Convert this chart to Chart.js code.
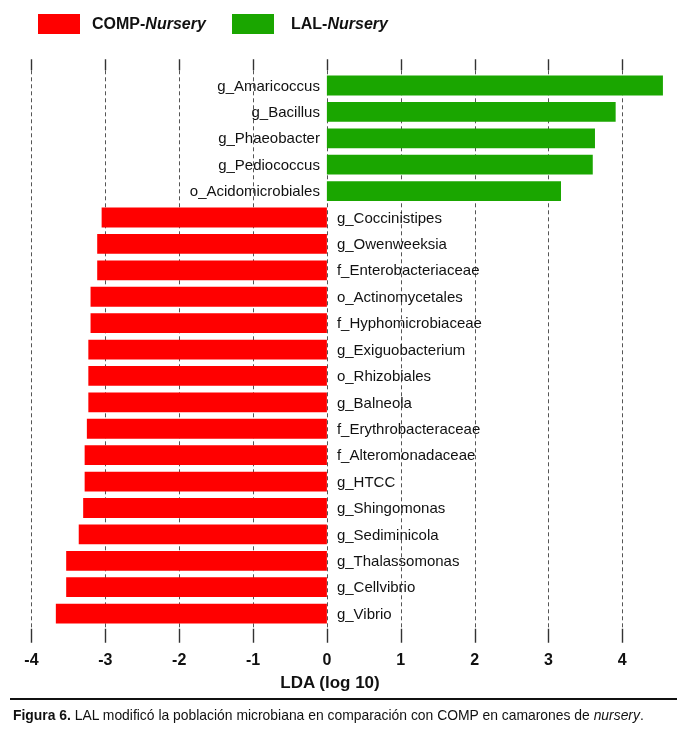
<!DOCTYPE html>
<html>
<head>
<meta charset="utf-8">
<script src="https://cdn.jsdelivr.net/npm/chart.js@4.4.1/dist/chart.umd.min.js"></script>
<style>
    body { margin: 0; background: #fff; font-family: "Liberation Sans", Arial, sans-serif; color: #111; }
    #wrap { position: relative; width: 680px; height: 732px; }
    #box { position: absolute; left: 0; top: 0; width: 680px; height: 700px; }
    .swatch { position: absolute; top: 14px; width: 42px; height: 20px; }
    .leg { position: absolute; top: 14px; line-height: 20px; font-size: 16px; font-weight: bold; }
    #axis-title { position: absolute; top: 673px; left: 230px; width: 200px; text-align: center; font-size: 17px; font-weight: bold; line-height: 20px; }
    #rule { position: absolute; top: 698px; left: 10px; width: 667px; height: 2px; background: #111; }
    #caption { position: absolute; top: 707px; left: 13px; font-size: 13.9px; line-height: 16px; white-space: nowrap; }
</style>
</head>
<body>
<div id="wrap">
    <div id="box"><canvas id="lda-chart"></canvas></div>
    <div class="swatch" style="left:38px;background:#ff0000"></div>
    <div class="leg" style="left:92px">COMP-<i>Nursery</i></div>
    <div class="swatch" style="left:232px;background:#1aa600"></div>
    <div class="leg" style="left:291px">LAL-<i>Nursery</i></div>
    <div id="axis-title">LDA (log 10)</div>
    <div id="rule"></div>
    <div id="caption"><b>Figura 6.</b> LAL modificó la población microbiana en comparación con COMP en camarones de <i>nursery</i>.</div>
</div>
<script>
const LAL_COLOR = '#1aa600';
const COMP_COLOR = '#ff0000';
const GRID_COLOR = '#555';
const LABEL_FONT = '15px "Liberation Sans", Arial, sans-serif';

const LAL_TAXA = ['g_Amaricoccus', 'g_Bacillus', 'g_Phaeobacter', 'g_Pediococcus', 'o_Acidomicrobiales'];
const LAL_LDA = [4.55, 3.91, 3.63, 3.60, 3.17];

const COMP_TAXA = ['g_Coccinistipes', 'g_Owenweeksia', 'f_Enterobacteriaceae', 'o_Actinomycetales',
    'f_Hyphomicrobiaceae', 'g_Exiguobacterium', 'o_Rhizobiales', 'g_Balneola', 'f_Erythrobacteraceae',
    'f_Alteromonadaceae', 'g_HTCC', 'g_Shingomonas', 'g_Sediminicola', 'g_Thalassomonas',
    'g_Cellvibrio', 'g_Vibrio'];
const COMP_LDA = [-3.05, -3.11, -3.11, -3.20, -3.20, -3.23, -3.23, -3.23, -3.25,
    -3.28, -3.28, -3.30, -3.36, -3.53, -3.53, -3.67];

const X_TICKS = [-4, -3, -2, -1, 0, 1, 2, 3, 4];

const TAXA = LAL_TAXA.concat(COMP_TAXA);
const lalData = LAL_LDA.concat(COMP_TAXA.map(() => null));
const compData = LAL_TAXA.map(() => null).concat(COMP_LDA);

// dashed grid with short solid ticks at top and bottom
function getGridPlugin() {
    return {
        id: 'ldaGrid',
        beforeDatasetsDraw(chart) {
            const { ctx, chartArea: area, scales: { x } } = chart;
            ctx.save();
            x.ticks.forEach(t => {
                const px = Math.round(x.getPixelForValue(t.value)) + 0.5;
                ctx.strokeStyle = GRID_COLOR;
                ctx.lineWidth = 1;
                ctx.setLineDash([4, 3]);
                ctx.beginPath();
                ctx.moveTo(px, area.top - 2);
                ctx.lineTo(px, area.bottom + 2);
                ctx.stroke();

                ctx.setLineDash([]);
                ctx.strokeStyle = '#333';
                ctx.lineWidth = 1.4;
                ctx.beginPath();
                ctx.moveTo(px, area.top - 13);
                ctx.lineTo(px, area.top - 2);
                ctx.moveTo(px, area.bottom + 2);
                ctx.lineTo(px, area.bottom + 16);
                ctx.stroke();
            });
            ctx.restore();
        }
    };
}

// taxon names beside the zero line
function getTaxaLabelPlugin() {
    return {
        id: 'taxaLabels',
        afterDatasetsDraw(chart) {
            const { ctx, scales: { x, y } } = chart;
            const x0 = x.getPixelForValue(0);
            ctx.save();
            ctx.font = LABEL_FONT;
            ctx.fillStyle = '#111';
            ctx.textBaseline = 'middle';
            chart.data.labels.forEach((label, i) => {
                const py = y.getPixelForValue(i) + 1;
                if (chart.data.datasets[0].data[i] != null) {
                    ctx.textAlign = 'right';
                    ctx.fillText(label, x0 - 7, py);
                } else {
                    ctx.textAlign = 'left';
                    ctx.fillText(label, x0 + 10, py);
                }
            });
            ctx.restore();
        }
    };
}

new Chart(document.getElementById('lda-chart'), {
    type: 'bar',
    data: {
        labels: TAXA,
        datasets: [
            { label: 'LAL-Nursery', data: lalData, backgroundColor: LAL_COLOR },
            { label: 'COMP-Nursery', data: compData, backgroundColor: COMP_COLOR }
        ]
    },
    options: {
        indexAxis: 'y',
        responsive: true,
        maintainAspectRatio: false,
        animation: false,
        layout: { padding: { top: 72.3, left: 15.9, right: 6, bottom: 6 } },
        datasets: { bar: { grouped: false, categoryPercentage: 1, barPercentage: 0.75, borderWidth: 0 } },
        plugins: { legend: { display: false }, tooltip: { enabled: false } },
        scales: {
            x: {
                type: 'linear',
                min: -4.2,
                max: 4.7,
                afterBuildTicks: scale => { scale.ticks = X_TICKS.map(v => ({ value: v })); },
                grid: { display: false, drawTicks: false, tickLength: 0 },
                border: { display: false },
                ticks: {
                    padding: 24,
                    color: '#111',
                    font: { family: '"Liberation Sans", Arial, sans-serif', size: 16, weight: 'bold' }
                }
            },
            y: { display: false, offset: true }
        }
    },
    plugins: [getGridPlugin(), getTaxaLabelPlugin()]
});
</script>
</body>
</html>
